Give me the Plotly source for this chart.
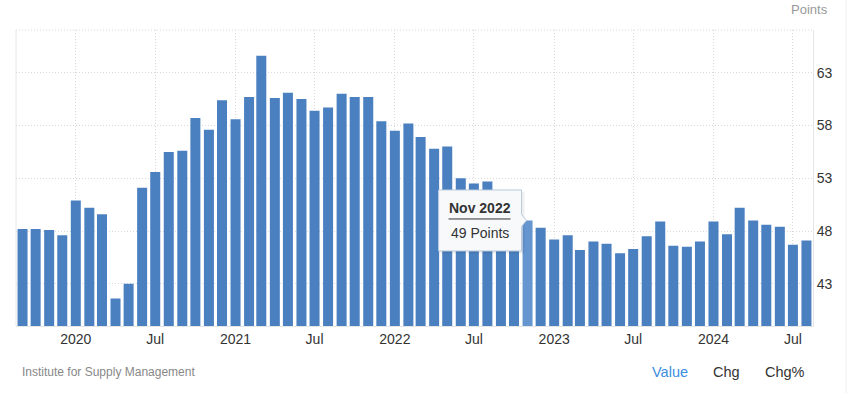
import pandas as pd
import plotly.graph_objects as go

# ---- data ----
start_month = "2019-09-01"
values = [48.2, 48.2, 48.1, 47.6,
          50.9, 50.2, 49.6, 41.6, 43.0, 52.1, 53.6, 55.5, 55.6, 58.7, 57.6, 60.4,
          58.6, 60.7, 64.6, 60.6, 61.1, 60.5, 59.4, 59.7, 61.0, 60.7, 60.7, 58.4,
          57.5, 58.2, 56.9, 55.8, 56.0, 53.0, 52.5, 52.7, 50.9, 50.2, 49.0, 48.3,
          47.2, 47.6, 46.2, 47.0, 46.8, 45.9, 46.3, 47.5, 48.9, 46.6, 46.5, 47.0,
          48.9, 47.7, 50.2, 49.0, 48.6, 48.4, 46.7, 47.1]
months = pd.date_range(start_month, periods=len(values), freq="MS")

tick_dates = ["2020-01-01", "2020-07-01", "2021-01-01", "2021-07-01", "2022-01-01",
              "2022-07-01", "2023-01-01", "2023-07-01", "2024-01-01", "2024-07-01"]
tick_text = ["2020", "Jul", "2021", "Jul", "2022", "Jul", "2023", "Jul", "2024", "Jul"]
y_ticks = [43, 48, 53, 58, 63]

highlight_month = "2022-11-01"
highlight_label = "Nov 2022"
unit = "Points"
source = "Institute for Supply Management"

# ---- style ----
FONT = "Liberation Sans, Arial, sans-serif"
BAR = "#4a7fc0"
BAR_HI = "#6696d0"
GRID = "#d9d9d9"
DOT = "1px,2px"

hi_idx = list(months).index(pd.Timestamp(highlight_month))
hi_val = values[hi_idx]
colors = [BAR_HI if i == hi_idx else BAR for i in range(len(values))]

fig = go.Figure()
fig.add_trace(go.Bar(
    x=months, y=values,
    marker=dict(color=colors, line=dict(width=0)),
    width=1.98e9,
    hoverinfo="skip",
))

fig.update_layout(
    width=853, height=393,
    margin=dict(l=16, r=40, t=30, b=67),
    paper_bgcolor="white", plot_bgcolor="white",
    showlegend=False,
    font=dict(family=FONT, color="#333"),
    xaxis=dict(
        type="date",
        range=["2019-08-17", "2024-08-16"],
        tickvals=tick_dates, ticktext=tick_text,
        showgrid=True, gridcolor=GRID, griddash=DOT, gridwidth=1,
        showline=True, linecolor="#e6e6e6", linewidth=1,
        ticks="", tickfont=dict(size=14, color="#333"),
        zeroline=False, fixedrange=True,
    ),
    yaxis=dict(
        side="right",
        range=[39.0, 67.05],
        tickvals=y_ticks,
        showgrid=True, gridcolor=GRID, griddash=DOT, gridwidth=1,
        showline=True, linecolor="#e6e6e6", linewidth=1,
        ticks="", tickfont=dict(size=14, color="#333"),
        zeroline=False, fixedrange=True,
    ),
)

shapes = [
    # top dotted border
    dict(type="line", xref="paper", yref="paper", x0=0, x1=1, y0=1, y1=1,
         line=dict(color=GRID, width=1, dash=DOT)),
    # left solid border
    dict(type="line", xref="paper", yref="paper", x0=0, x1=0, y0=0, y1=1,
         line=dict(color="#e6e6e6", width=1)),
    # page border at far right
    dict(type="line", xref="paper", yref="paper", x0=1.0414, x1=1.0414, y0=-0.23, y1=1.11,
         line=dict(color="#eeeeee", width=1)),
]

# tooltip (anchored to the highlighted bar top, pixel-sized)
tip_path = "M -89,30.5 L -6,30.5 L -6,6 L -1,0 L -6,-6 L -6,-30.5 L -89,-30.5 Z"
shadow_path = "M -87,28.5 L -3,28.5 L -3,-33 L -87,-33 Z"
shapes.append(dict(type="path", xref="x", yref="y", xsizemode="pixel", ysizemode="pixel",
                   xanchor=highlight_month, yanchor=hi_val, path=shadow_path,
                   fillcolor="rgba(0,0,0,0.06)", line=dict(width=0), layer="above"))
shapes.append(dict(type="path", xref="x", yref="y", xsizemode="pixel", ysizemode="pixel",
                   xanchor=highlight_month, yanchor=hi_val, path=tip_path,
                   fillcolor="#f7f9fb", line=dict(color="#b9c9dc", width=1), layer="above"))
shapes.append(dict(type="line", xref="x", yref="y", xsizemode="pixel", ysizemode="pixel",
                   xanchor=highlight_month, yanchor=hi_val, x0=-79, x1=-17, y0=1.5, y1=1.5,
                   line=dict(color="#333", width=1), layer="above"))
fig.update_layout(shapes=shapes)

ann = [
    dict(x=highlight_month, y=hi_val, xref="x", yref="y", xshift=-47.5, yshift=12.5,
         text=f"<b>{highlight_label}</b>", showarrow=False,
         font=dict(size=14, color="#333", family=FONT)),
    dict(x=highlight_month, y=hi_val, xref="x", yref="y", xshift=-47.5, yshift=-12.5,
         text=f"{hi_val:g} {unit}", showarrow=False,
         font=dict(size=14, color="#333", family=FONT)),
    dict(x=1.0213, y=1.0676, xref="paper", yref="paper", xanchor="right", yanchor="middle",
         text=unit, showarrow=False, font=dict(size=13, color="#999", family=FONT)),
    dict(x=0.005, y=-0.155, xref="paper", yref="paper", xanchor="left", yanchor="middle",
         text=source, showarrow=False, font=dict(size=12, color="#888", family=FONT)),
    dict(x=0.820, y=-0.155, xref="paper", yref="paper", xanchor="center", yanchor="middle",
         text="Value", showarrow=False, font=dict(size=14.5, color="#3a8ee0", family=FONT)),
    dict(x=0.892, y=-0.155, xref="paper", yref="paper", xanchor="center", yanchor="middle",
         text="Chg", showarrow=False, font=dict(size=14.5, color="#333", family=FONT)),
    dict(x=0.965, y=-0.155, xref="paper", yref="paper", xanchor="center", yanchor="middle",
         text="Chg%", showarrow=False, font=dict(size=14.5, color="#333", family=FONT)),
]
fig.update_layout(annotations=ann)

fig.write_html("out.html", config={"displayModeBar": False},
               post_script="document.body.style.margin='0';")
